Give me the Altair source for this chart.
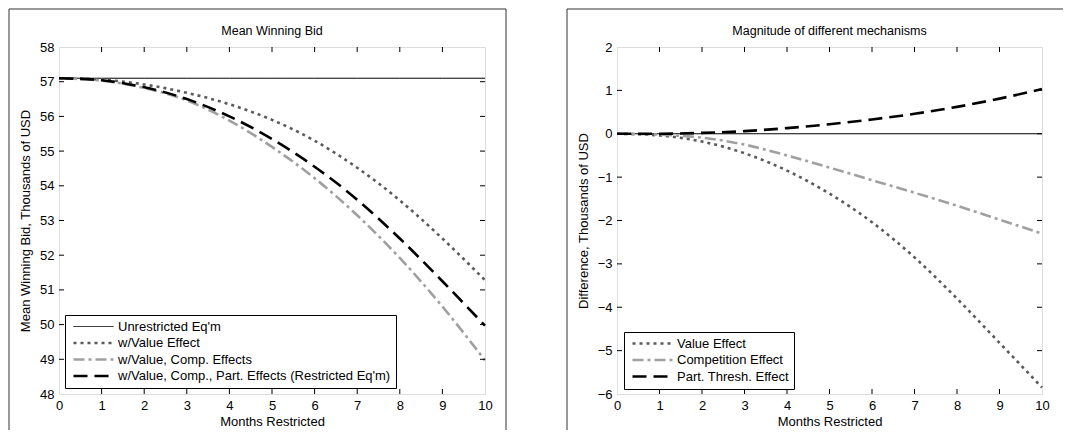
import altair as alt
import pandas as pd

# ---------------- data ----------------
months = list(range(11))

# Left panel: Mean winning bid (thousands of USD)
unrestricted = [57.1] * 11
w_value = [57.10, 57.06, 56.92, 56.68, 56.35, 55.90, 55.30, 54.52, 53.58, 52.48, 51.28]
w_value_comp = [57.10, 57.03, 56.82, 56.46, 55.88, 55.12, 54.22, 53.15, 51.92, 50.52, 48.97]
w_value_comp_part = [57.10, 57.04, 56.84, 56.50, 56.00, 55.35, 54.55, 53.60, 52.48, 51.25, 49.97]

# Right panel: magnitude of mechanisms (difference, thousands of USD)
value_effect = [0.0, -0.04, -0.18, -0.45, -0.85, -1.38, -2.04, -2.85, -3.80, -4.82, -5.85]
competition_effect = [0.0, -0.02, -0.09, -0.25, -0.50, -0.78, -1.07, -1.36, -1.66, -1.98, -2.30]
part_thresh_effect = [0.0, 0.0, 0.02, 0.06, 0.13, 0.22, 0.33, 0.46, 0.62, 0.81, 1.03]

left_names = ["Unrestricted Eq'm", "w/Value Effect", "w/Value, Comp. Effects",
              "w/Value, Comp., Part. Effects (Restricted Eq'm)"]
right_names = ["Value Effect", "Competition Effect", "Part. Thresh. Effect"]

x_ticks = list(range(0, 11))
left_y_ticks = list(range(48, 59))
right_y_ticks = list(range(-6, 3))

# ---------------- styles ----------------
FONT = "Liberation Sans"
W1, W2, H = 426, 425, 347
DARK = "#5a5a5a"
LIGHT = "#a0a0a0"

left_colors = ["black", DARK, LIGHT, "black"]
left_dashes = [[1, 0], [3, 4], [11, 4, 3, 4], [14, 7]]
left_widths = [1, 2.6, 2.6, 2.6]
right_colors = [DARK, LIGHT, "black"]
right_dashes = [[3, 4], [11, 4, 3, 4], [14, 7]]
right_widths = [2.6, 2.6, 2.6]


def long_df(names, series):
    rows = []
    for n, s in zip(names, series):
        for m, v in zip(months, s):
            rows.append({"month": m, "value": v, "series": n})
    return pd.DataFrame(rows)


def make_legend(lx, ly):
    return alt.Legend(
        title=None, orient="none", legendX=lx, legendY=ly,
        fillColor="white", strokeColor="black", padding=5,
        symbolType="M-4,0H4", symbolSize=100, symbolOffset=17,
        labelOffset=18, rowPadding=2.5, labelFont=FONT, labelFontSize=13,
        labelColor="black", labelLimit=400,
    )


def axis_x():
    return alt.Axis(values=x_ticks, title="Months Restricted", ticks=False, domain=False,
                    grid=False, labelPadding=5, titlePadding=3, labelFontSize=13,
                    titleFontSize=13, titleFontWeight="normal", labelFont=FONT,
                    titleFont=FONT, labelColor="black", titleColor="black", format="d",
                    labelFlush=False)


def axis_y(values, title):
    return alt.Axis(values=values, title=title, ticks=False, domain=False, grid=False,
                    labelPadding=5, titlePadding=7, labelFontSize=13, titleFontSize=13,
                    titleFontWeight="normal", labelFont=FONT, titleFont=FONT,
                    labelColor="black", titleColor="black", format="d", labelFlush=False)


def enc_x():
    return alt.X("month:Q", scale=alt.Scale(domain=[0, 10], nice=False, zero=False), axis=axis_x())


def enc_y(ydomain, yvals, ytitle):
    return alt.Y("value:Q", scale=alt.Scale(domain=ydomain, nice=False, zero=False),
                 axis=axis_y(yvals, ytitle))


def inward_ticks(width, ydomain, yvals, ytitle):
    xt = pd.DataFrame({"month": x_ticks[1:-1]})
    yt = pd.DataFrame({"value": yvals[1:-1]})
    base_x = alt.Chart(xt).mark_rule(color="black", strokeWidth=1)
    base_y = alt.Chart(yt).mark_rule(color="black", strokeWidth=1)
    top = base_x.encode(x=enc_x(), y=alt.value(0), y2=alt.value(5))
    bot = base_x.encode(x=enc_x(), y=alt.value(H), y2=alt.value(H - 5))
    lft = base_y.encode(y=enc_y(ydomain, yvals, ytitle), x=alt.value(0), x2=alt.value(5))
    rgt = base_y.encode(y=enc_y(ydomain, yvals, ytitle), x=alt.value(width), x2=alt.value(width - 5))
    return [top, bot, lft, rgt]


def borders(right_x, draw_right):
    dummy = pd.DataFrame({"d": [0]})
    base = alt.Chart(dummy).mark_rule(color="#333333", strokeWidth=1)
    parts = [
        base.encode(x=alt.value(-50), x2=alt.value(right_x), y=alt.value(-38)),
        base.encode(x=alt.value(-50), y=alt.value(-38), y2=alt.value(383)),
    ]
    if draw_right:
        parts.append(base.encode(x=alt.value(right_x), y=alt.value(-38), y2=alt.value(383)))
    return parts


def panel(df, names, colors, dashes, widths, ydomain, yvals, ytitle, title, width, lx, ly,
          extra, right_x, draw_right):
    leg = make_legend(lx, ly)
    lines = alt.Chart(df).mark_line(interpolate="monotone").encode(
        x=enc_x(),
        y=enc_y(ydomain, yvals, ytitle),
        stroke=alt.Stroke("series:N", scale=alt.Scale(domain=names, range=colors), legend=leg),
        strokeDash=alt.StrokeDash("series:N", scale=alt.Scale(domain=names, range=dashes), legend=leg),
        strokeWidth=alt.StrokeWidth("series:N", scale=alt.Scale(type="ordinal", domain=names, range=widths),
                                    legend=leg),
        order=alt.Order("month:Q"),
    )
    layers = borders(right_x, draw_right) + extra + [lines] + inward_ticks(width, ydomain, yvals, ytitle)
    return alt.layer(*layers).properties(
        width=width, height=H,
        title=alt.TitleParams(title, fontSize=12.5, font=FONT, fontWeight="normal", color="black",
                              offset=-29, anchor="middle", frame="group"),
    )


left_df = long_df(left_names, [unrestricted, w_value, w_value_comp, w_value_comp_part])
right_df = long_df(right_names, [value_effect, competition_effect, part_thresh_effect])

right_ytitle = "Difference, Thousands of USD"
zero_line = alt.Chart(pd.DataFrame({"value": [0]})).mark_rule(color="black", strokeWidth=1).encode(
    y=enc_y([-6, 2], right_y_ticks, right_ytitle)
)

left = panel(left_df, left_names, left_colors, left_dashes, left_widths, [48, 58], left_y_ticks,
             "Mean Winning Bid, Thousands of USD", "Mean Winning Bid", W1, 6, 268, [], 447, True)
right = panel(right_df, right_names, right_colors, right_dashes, right_widths, [-6, 2], right_y_ticks,
              right_ytitle, "Magnitude of different mechanisms", W2, 7, 285,
              [zero_line], 446, False)

chart = alt.hconcat(left, right, spacing=132, bounds="flush").resolve_scale(
    stroke="independent", strokeDash="independent", strokeWidth="independent",
    x="independent", y="independent"
).resolve_legend(
    stroke="independent", strokeDash="independent", strokeWidth="independent"
).properties(
    padding=0, background="white"
).configure_view(stroke="black", strokeWidth=1).configure(font=FONT)

chart.save("out.html", embed_options={"renderer": "svg", "actions": False})
